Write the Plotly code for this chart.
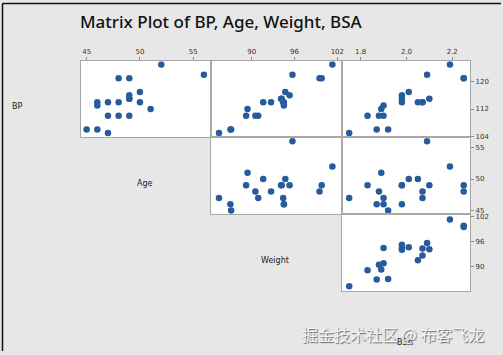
import plotly.graph_objects as go

# Blood pressure data (20 patients)
BP = [105, 115, 116, 117, 112, 121, 121, 110, 110, 114, 114, 115, 114, 106, 125, 114, 106, 113, 110, 122]
Age = [47, 49, 49, 50, 51, 48, 49, 47, 49, 48, 47, 49, 50, 45, 52, 46, 46, 46, 48, 56]
Weight = [85.4, 94.2, 95.3, 94.7, 89.4, 99.5, 99.8, 90.9, 89.2, 92.7, 94.4, 94.1, 91.6, 87.1, 101.3, 94.5, 87.0, 94.5, 90.5, 95.7]
BSA = [1.75, 2.10, 1.98, 2.01, 1.89, 2.25, 2.25, 1.90, 1.83, 2.07, 2.07, 1.98, 2.05, 1.92, 2.19, 1.98, 1.87, 1.90, 1.88, 2.09]

var_names = ["BP", "Age", "Weight", "BSA"]
data = {"BP": BP, "Age": Age, "Weight": Weight, "BSA": BSA}
tickvals = {"BP": [104, 112, 120], "Age": [45, 50, 55], "Weight": [90, 96, 102], "BSA": [1.8, 2.0, 2.2]}
ticktext = {"BP": ["104", "112", "120"], "Age": ["45", "50", "55"], "Weight": ["90", "96", "102"], "BSA": ["1.8", "2.0", "2.2"]}
ranges = {"BP": [103.8, 126.0], "Age": [44.44, 56.68], "Weight": [84.3, 102.6], "BSA": [1.717, 2.278]}

W, H = 503, 355
col_px = [(-50, 81), (81, 212), (212, 343), (343, 472)]
row_px = [(61, 138), (138, 216), (216, 294), (294, 372)]

def xd(a, b):
    return [a / W, b / W]

def yd(a, b):
    return [1 - b / H, 1 - a / H]

fig = go.Figure()
layout = {}
idx = 0
for r in range(4):
    for c in range(4):
        if c <= r:
            continue
        idx += 1
        xv, yv = var_names[c], var_names[r]
        xa = "x" if idx == 1 else f"x{idx}"
        ya = "y" if idx == 1 else f"y{idx}"
        fig.add_trace(go.Scatter(
            x=data[xv], y=data[yv], mode="markers", xaxis=xa, yaxis=ya,
            marker=dict(size=6.5, color="#285b9b"), showlegend=False,
            hoverinfo="x+y"))
        xkey = "xaxis" if idx == 1 else f"xaxis{idx}"
        ykey = "yaxis" if idx == 1 else f"yaxis{idx}"
        top = (r == 0)
        right = (c == 3)
        layout[xkey] = dict(
            domain=xd(*col_px[c]), anchor=ya, range=ranges[xv],
            showgrid=False, zeroline=False, showline=True, mirror=True,
            linecolor="#a8a8a8", linewidth=1,
            side="top", ticks="outside" if top else "", ticklen=3,
            tickcolor="#888", showticklabels=top,
            tickvals=tickvals[xv], ticktext=ticktext[xv],
            tickfont=dict(size=7, color="#333", family="DejaVu Sans"),
        )
        layout[ykey] = dict(
            domain=yd(*row_px[r]), anchor=xa, range=ranges[yv],
            showgrid=False, zeroline=False, showline=True, mirror=True,
            linecolor="#a8a8a8", linewidth=1,
            side="right", ticks="outside" if right else "", ticklen=3,
            tickcolor="#888", showticklabels=right,
            tickvals=tickvals[yv], ticktext=ticktext[yv],
            tickfont=dict(size=7, color="#333", family="DejaVu Sans"),
        )

annotations = [
    dict(text="Matrix Plot of BP, Age, Weight, BSA", x=78 / W, y=1 - 21 / H,
         xref="paper", yref="paper", xanchor="left", yanchor="middle",
         showarrow=False, font=dict(size=17, color="#111", family="Noto Sans", weight=500)),
]
label_pos = [(17, 107), (146, 185), (276, 263), (407, 346)]
for name, (px, py) in zip(var_names, label_pos):
    annotations.append(dict(text=name, x=px / W, y=1 - py / H, xref="paper", yref="paper",
                            xanchor="center", yanchor="middle", showarrow=False,
                            font=dict(size=8, color="#222", family="DejaVu Sans")))
annotations.append(dict(text="掘金技术社区 @ 布客飞龙", x=395 / W, y=1 - 338 / H,
                        xref="paper", yref="paper", xanchor="center", yanchor="middle",
                        showarrow=False,
                        font=dict(size=16, color="#f4f4f4", family="Noto Sans CJK SC",
                                  shadow="1px 1px 1px #666")))

shapes = [
    dict(type="line", xref="paper", yref="paper", x0=2.5 / W, x1=2.5 / W, y0=0, y1=1 - 2.5 / H,
         line=dict(color="#111", width=1.5)),
    dict(type="line", xref="paper", yref="paper", x0=2.5 / W, x1=1, y0=1 - 2.5 / H, y1=1 - 2.5 / H,
         line=dict(color="#111", width=1.5)),
]

fig.update_layout(
    width=W, height=H, margin=dict(l=0, r=0, t=0, b=0),
    paper_bgcolor="#e7e7e7", plot_bgcolor="white",
    annotations=annotations, shapes=shapes, **layout,
)
fig.write_html("out.html")
